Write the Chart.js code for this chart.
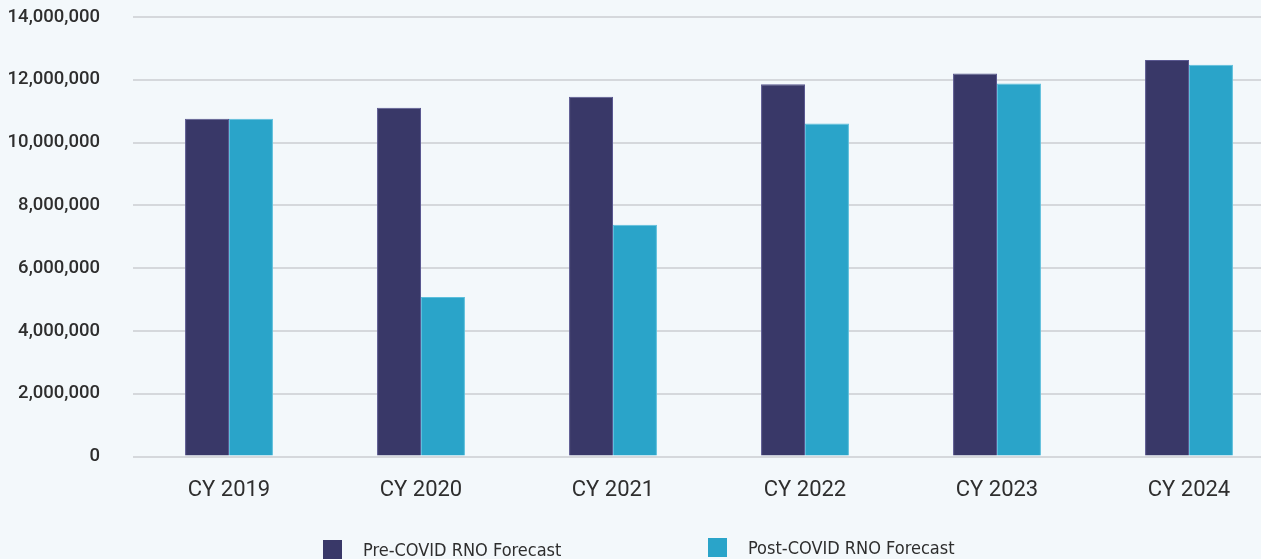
<!DOCTYPE html>
<html>
<head>
<meta charset="utf-8">
<script src="https://cdn.jsdelivr.net/npm/chart.js@4/dist/chart.umd.min.js"></script>
<style>
  html, body { margin: 0; padding: 0; background: #f3f8fb; overflow: hidden; width: 1261px; height: 559px; }
  #wrap { position: absolute; left: 0; top: 0; width: 1299px; height: 559px; }
  #legend { position: absolute; left: 0; top: 0; width: 1261px; height: 559px; pointer-events: none; }
  .item { position: absolute; display: flex; align-items: center; font-family: "DejaVu Sans Condensed", "DejaVu Sans", sans-serif; font-size: 18px; color: #2e2e2e; white-space: nowrap; }
  .box { width: 19px; height: 19px; margin-right: 21px; }
</style>
</head>
<body>
<div id="wrap"><canvas id="c"></canvas></div>
<div id="legend"></div>
<script>
const categories = ["CY 2019", "CY 2020", "CY 2021", "CY 2022", "CY 2023", "CY 2024"];
const seriesNames = ["Pre-COVID RNO Forecast", "Post-COVID RNO Forecast"];
const preCovid = [10760000, 11110000, 11460000, 11860000, 12200000, 12630000];
const postCovid = [10760000, 5080000, 7380000, 10610000, 11880000, 12480000];
const yTicks = [0, 2000000, 4000000, 6000000, 8000000, 10000000, 12000000, 14000000];
const colors = ["#393868", "#2aa4c9"];
const borderColors = ["#5a5890", "#5cbfdc"];

const ctx = document.getElementById('c');
new Chart(ctx, {
  type: 'bar',
  data: {
    labels: categories,
    datasets: [
      { label: seriesNames[0], data: preCovid, backgroundColor: colors[0], borderColor: borderColors[0], borderWidth: 1 },
      { label: seriesNames[1], data: postCovid, backgroundColor: colors[1], borderColor: borderColors[1], borderWidth: 1 }
    ]
  },
  options: {
    responsive: true,
    maintainAspectRatio: false,
    animation: false,
    layout: { padding: { left: 0, right: 14, top: 17, bottom: 34 } },
    datasets: { bar: { categoryPercentage: 0.458, barPercentage: 1.0 } },
    plugins: {
      legend: { display: false },
      tooltip: { enabled: false }
    },
    scales: {
      x: {
        grid: { display: false, drawTicks: false },
        border: { display: false },
        ticks: { color: '#2e2e2e', padding: 21, font: { family: 'Roboto', size: 22 } }
      },
      y: {
        min: 0,
        max: 14000000,
        afterFit: (s) => { s.width = 133; s.paddingTop = 10; s.paddingBottom = 10; },
        afterBuildTicks: (s) => { s.ticks = yTicks.map(v => ({ value: v })); },
        grid: { color: '#d5d8dc', lineWidth: 2, drawTicks: false },
        border: { display: false },
        ticks: {
          color: '#2e2e2e',
          padding: 33,
          font: { family: 'Roboto', size: 18.5, weight: '500' },
          callback: (v) => Number(v).toLocaleString('en-US')
        }
      }
    }
  }
});

const legend = document.getElementById('legend');
const legendPos = [{ left: 323, top: 539 }, { left: 708, top: 537 }];
seriesNames.forEach((name, i) => {
  const it = document.createElement('div');
  it.className = 'item';
  it.style.left = legendPos[i].left + 'px';
  it.style.top = legendPos[i].top + 'px';
  const b = document.createElement('span');
  b.className = 'box';
  b.style.background = colors[i];
  const t = document.createElement('span');
  t.textContent = name;
  it.appendChild(b);
  it.appendChild(t);
  legend.appendChild(it);
});
</script>
</body>
</html>
